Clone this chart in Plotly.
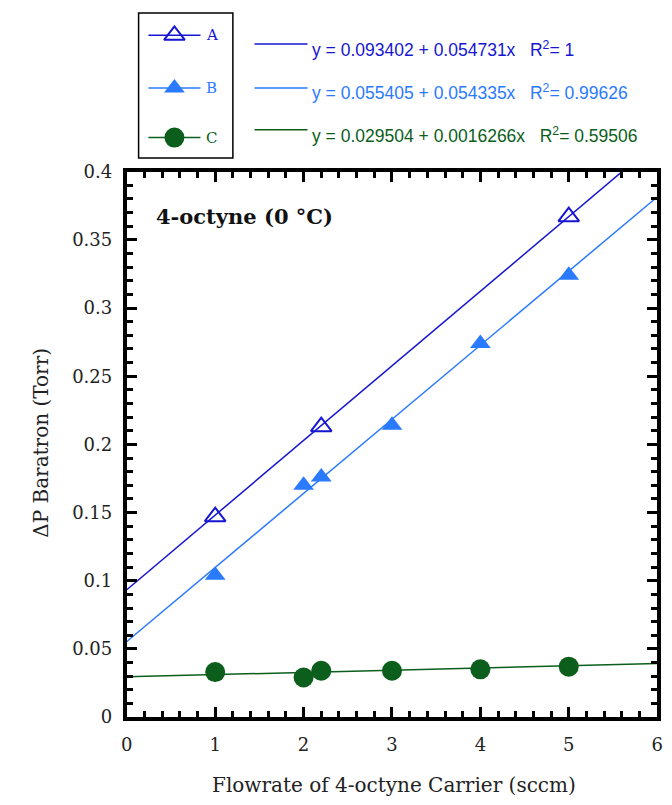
import plotly.graph_objects as go

# ---- data ----
xA = [1, 2.2, 5]
yA = [0.147, 0.213, 0.367]
xB = [1, 2, 2.2, 3, 4, 5]
yB = [0.104, 0.170, 0.176, 0.214, 0.274, 0.324]
xC = [1, 2, 2.2, 3, 4, 5]
yC = [0.033, 0.029, 0.034, 0.034, 0.035, 0.037]
fit_intercepts = [0.093402, 0.055405, 0.029504]
fit_slopes = [0.054731, 0.054335, 0.0016266]
fit_labels = [
    "y = 0.093402 + 0.054731x&nbsp;&nbsp;&nbsp;R<sup>2</sup>= 1",
    "y = 0.055405 + 0.054335x&nbsp;&nbsp;&nbsp;R<sup>2</sup>= 0.99626",
    "y = 0.029504 + 0.0016266x&nbsp;&nbsp;&nbsp;R<sup>2</sup>= 0.59506",
]
series_names = ["A", "B", "C"]
x_ticks = [0, 1, 2, 3, 4, 5, 6]
y_ticks = [0, 0.05, 0.1, 0.15, 0.2, 0.25, 0.3, 0.35, 0.4]
y_ticktext = ["0", "0.05", "0.1", "0.15", "0.2", "0.25", "0.3", "0.35", "0.4"]

W, H = 672, 805
L, R, T, B = 123, 663, 165, 725   # plot area in figure pixels
colA, colB, colC = "#1616d2", "#2a7aff", "#0b5e1b"
cols = [colA, colB, colC]
serif = "DejaVu Serif"
sans = "Liberation Sans"

fig = go.Figure()

# fit lines
xfit = [0, 6]
for b0, b1, c in zip(fit_intercepts, fit_slopes, cols):
    fig.add_trace(go.Scatter(x=xfit, y=[b0 + b1 * v for v in xfit], mode="lines",
                             line=dict(color=c, width=1.5), showlegend=False,
                             hoverinfo="skip"))

# data markers
fig.add_trace(go.Scatter(x=xA, y=yA, mode="markers", showlegend=False,
                         marker=dict(symbol="triangle-up-open", size=18, color=colA,
                                     line=dict(width=2, color=colA))))
fig.add_trace(go.Scatter(x=xB, y=yB, mode="markers", showlegend=False,
                         marker=dict(symbol="triangle-up", size=18, color=colB,
                                     line=dict(width=0))))
fig.add_trace(go.Scatter(x=xC, y=yC, mode="markers", showlegend=False,
                         marker=dict(symbol="circle", size=20, color=colC,
                                     line=dict(width=0))))

# ---- manual legend on pixel-coordinate helper axes ----
rows_y = [25, 79, 130]
symbols = ["triangle-up-open", "triangle-up", "circle"]
sizes = [18, 18, 20]
for name, yy, sym, sz, c in zip(series_names, rows_y, symbols, sizes, cols):
    fig.add_trace(go.Scatter(x=[145, 198], y=[yy, yy], mode="lines", xaxis="x2", yaxis="y2",
                             line=dict(color=c, width=1.5), showlegend=False, hoverinfo="skip"))
    fig.add_trace(go.Scatter(x=[171.5], y=[yy], mode="markers", xaxis="x2", yaxis="y2",
                             marker=dict(symbol=sym, size=sz, color=c,
                                         line=dict(width=2 if "open" in sym else 0, color=c)),
                             showlegend=False, hoverinfo="skip"))
    fig.add_annotation(x=202, y=yy, xref="x2", yref="y2", text=name, showarrow=False,
                       xanchor="left", yanchor="middle",
                       font=dict(family=serif, size=15, color=c))

eq_line_y = [34, 79, 122]
eq_text_y = [39, 83, 127]
for ly, ty, txt, c in zip(eq_line_y, eq_text_y, fit_labels, cols):
    fig.add_trace(go.Scatter(x=[253, 307], y=[ly, ly], mode="lines", xaxis="x2", yaxis="y2",
                             line=dict(color=c, width=1.5), showlegend=False, hoverinfo="skip"))
    fig.add_annotation(x=310, y=ty, xref="x2", yref="y2", text=txt, showarrow=False,
                       xanchor="left", yanchor="middle",
                       font=dict(family=sans, size=17.5, color=c))

fig.add_shape(type="rect", x0=135, x1=231, y0=2, y1=151, xref="x2", yref="y2",
              line=dict(color="black", width=1.5))

# chart label and axis titles
fig.add_annotation(x=151, y=211, xref="x2", yref="y2", text="<b>4-octyne (0 °C)</b>",
                   showarrow=False, xanchor="left", yanchor="middle",
                   font=dict(family=serif, size=21, color="#111"))
fig.add_annotation(x=395, y=795, xref="x2", yref="y2", text="Flowrate of 4-octyne Carrier (sccm)",
                   showarrow=False, xanchor="center", yanchor="middle",
                   font=dict(family=serif, size=20, color="#222"))
fig.add_annotation(x=36, y=443, xref="x2", yref="y2", text="ΔP Baratron (Torr)",
                   showarrow=False, xanchor="center", yanchor="middle", textangle=-90,
                   font=dict(family=serif, size=20, color="#222"))

axis_common = dict(showgrid=False, zeroline=False, showline=True, linecolor="black",
                   linewidth=4, mirror="allticks", ticks="inside", ticklen=10,
                   tickwidth=3, tickcolor="black",
                   tickfont=dict(family=serif, size=18, color="#222"))

fig.update_layout(
    width=W, height=H, margin=dict(l=0, r=0, t=0, b=0),
    paper_bgcolor="white", plot_bgcolor="rgba(0,0,0,0)",
    xaxis=dict(domain=[L / W, R / W], range=[0, 6], tickvals=x_ticks,
               minor=dict(ticks="inside", ticklen=6, tickwidth=3, dtick=0.2, tickcolor="black"),
               ticklabelstandoff=8, **axis_common),
    yaxis=dict(domain=[1 - B / H, 1 - T / H], range=[0, 0.4], tickvals=y_ticks,
               ticktext=y_ticktext,
               minor=dict(ticks="inside", ticklen=6, tickwidth=3, dtick=0.01, tickcolor="black"),
               ticklabelstandoff=7, **axis_common),
    xaxis2=dict(domain=[0, 1], range=[0, W], visible=False, anchor="y2"),
    yaxis2=dict(domain=[0, 1], range=[H, 0], visible=False, anchor="x2"),
)

fig.write_html("out.html")
